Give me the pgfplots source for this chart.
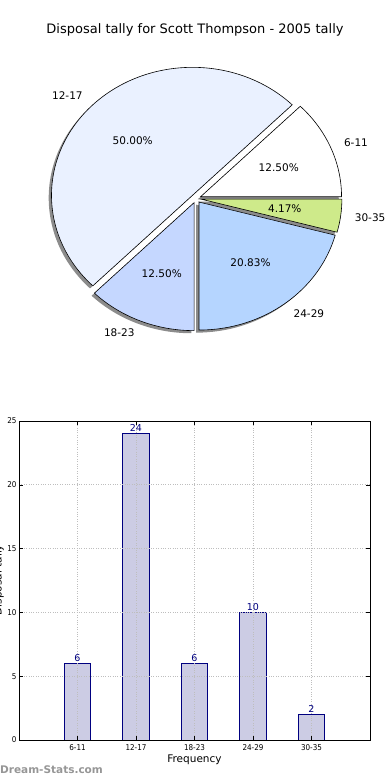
\documentclass[border=0pt]{standalone}
\usepackage{fontspec}
\setmainfont{DejaVu Sans}
\newfontfamily\condfont{DejaVu Sans}[FakeStretch=0.9]
\usepackage{pgfplots}
\pgfplotsset{compat=1.18}
\definecolor{p1}{RGB}{255,255,255}
\definecolor{p2}{RGB}{234,241,255}
\definecolor{p3}{RGB}{197,215,255}
\definecolor{p4}{RGB}{181,213,255}
\definecolor{p5}{RGB}{206,234,138}
\definecolor{barfill}{RGB}{204,204,228}
\definecolor{navyc}{RGB}{0,0,128}
\definecolor{gridc}{RGB}{190,190,190}
\definecolor{wm}{RGB}{150,150,150}

% pie data: value / label / colour
\def\piedata{6/6-11/p1,24/12-17/p2,6/18-23/p3,10/24-29/p4,2/30-35/p5}
\def\total{48}
\def\rx{141}\def\ry{128}
\def\ccx{196}\def\ccy{191.5}
\def\expl{0.035}

\gdef\pieshadows{}
\gdef\piewedges{}
\gdef\pielabels{}
\gdef\acc{0}
\foreach \v/\lab/\col in \piedata {
  \pgfmathsetmacro\a{\acc}
  \pgfmathsetmacro\b{\acc+360*\v/\total}
  \pgfmathsetmacro\m{(\a+\b)/2}
  \pgfmathsetmacro\cx{\ccx+\expl*\rx*cos(\m)}
  \pgfmathsetmacro\cy{\ccy+\expl*\ry*sin(\m)}
  \pgfmathsetmacro\ex{\cx+\rx*cos(\a)}
  \pgfmathsetmacro\ey{\cy+\ry*sin(\a)}
  \pgfmathsetmacro\sx{\cx-2.8}
  \pgfmathsetmacro\sy{\cy-2.6}
  \pgfmathsetmacro\sex{\ex-2.8}
  \pgfmathsetmacro\sey{\ey-2.6}
  \pgfmathsetmacro\px{\cx+0.6*\rx*cos(\m)}
  \pgfmathsetmacro\py{\cy+0.6*\ry*sin(\m)}
  \pgfmathsetmacro\lx{\cx+1.1*\rx*cos(\m)}
  \pgfmathsetmacro\ly{\cy+1.1*\ry*sin(\m)}
  \pgfmathsetmacro\pct{100*\v/\total}
  \pgfmathsetmacro\cm{cos(\m)}
  \ifdim\cm pt<0pt \def\anc{east}\else\def\anc{west}\fi
  \xdef\pieshadows{\unexpanded\expandafter{\pieshadows}%
    \noexpand\fill[black,opacity=0.45] (axis cs:\sx,\sy) -- (axis cs:\sex,\sey) arc[start angle=\a, end angle=\b, x radius=\rx pt, y radius=\ry pt] -- cycle;}
  \xdef\piewedges{\unexpanded\expandafter{\piewedges}%
    \noexpand\filldraw[fill=\col,draw=black,line width=0.6pt,line join=miter] (axis cs:\cx,\cy) -- (axis cs:\ex,\ey) arc[start angle=\a, end angle=\b, x radius=\rx pt, y radius=\ry pt] -- cycle;}
  \xdef\pielabels{\unexpanded\expandafter{\pielabels}%
    \noexpand\node[font=\noexpand\fontsize{10.5}{12}\noexpand\selectfont] at (axis cs:\px,\py) {\noexpand\pgfmathprintnumber[fixed,fixed zerofill,precision=2,assume math mode=true]{\pct}\noexpand\%};
    \noexpand\node[font=\noexpand\fontsize{10.5}{12}\noexpand\selectfont,anchor=\anc,inner sep=0pt] at (axis cs:\lx,\ly) {\lab};}
  \xdef\acc{\b}
}

\pgfplotstableread{
x y
0 6
1 24
2 6
3 10
4 2
}\bardata

\begin{document}
\begin{tikzpicture}[x=1pt,y=1pt]
\useasboundingbox (0,0) rectangle (390,780);
\coordinate (P) at (0,390);
\coordinate (B) at (19,40);
\node[font=\fontsize{13}{15}\selectfont] at (195,750) {Disposal tally for Scott Thompson - 2005 tally};

\begin{axis}[at={(P)}, anchor=south west, x=1pt, y=1pt,
  xmin=0, xmax=390, ymin=0, ymax=390, hide axis, disabledatascaling, clip=false]
\pieshadows
\piewedges
\pielabels
\end{axis}

\begin{axis}[at={(B)}, anchor=south west, width=351pt, height=319pt, scale only axis,
  xmin=-1, xmax=5, ymin=0, ymax=25,
  xtick={0,1,2,3,4}, xticklabels={6-11,12-17,18-23,24-29,30-35},
  ytick={0,5,10,15,20,25},
  axis on top,
  grid=major, grid style={gridc, dotted, line width=0.7pt},
  tick align=inside, major tick length=4pt,
  tick style={black, line width=0.5pt},
  axis line style={line width=0.9pt},
  tick label style={font=\condfont\fontsize{8}{9}\selectfont},
  /pgf/number format/assume math mode=true,
  xticklabel style={yshift=-1pt},
  yticklabel style={xshift=1pt},
  xlabel={Frequency},
  xlabel style={font=\fontsize{10.5}{12}\selectfont, at={(rel axis cs:0.5,0)}, anchor=center, yshift=-20pt},
  clip=false]
\addplot[ybar, bar width=0.45, fill=barfill, draw=navyc, line width=0.8pt,
  nodes near coords, every node near coord/.style={font=\fontsize{9.5}{11}\selectfont, text=navyc, inner sep=1.5pt, anchor=south}]
  table[x=x,y=y] {\bardata};
\end{axis}

\node[font=\fontsize{10.5}{12}\selectfont, rotate=90, anchor=south, inner sep=0pt] at (4,200) {Disposal tally};
\node[font=\bfseries\fontsize{10.5}{12}\selectfont, text=wm, anchor=west, inner sep=0pt] at (0,10) {Dream-Stats.com};
\end{tikzpicture}
\end{document}
